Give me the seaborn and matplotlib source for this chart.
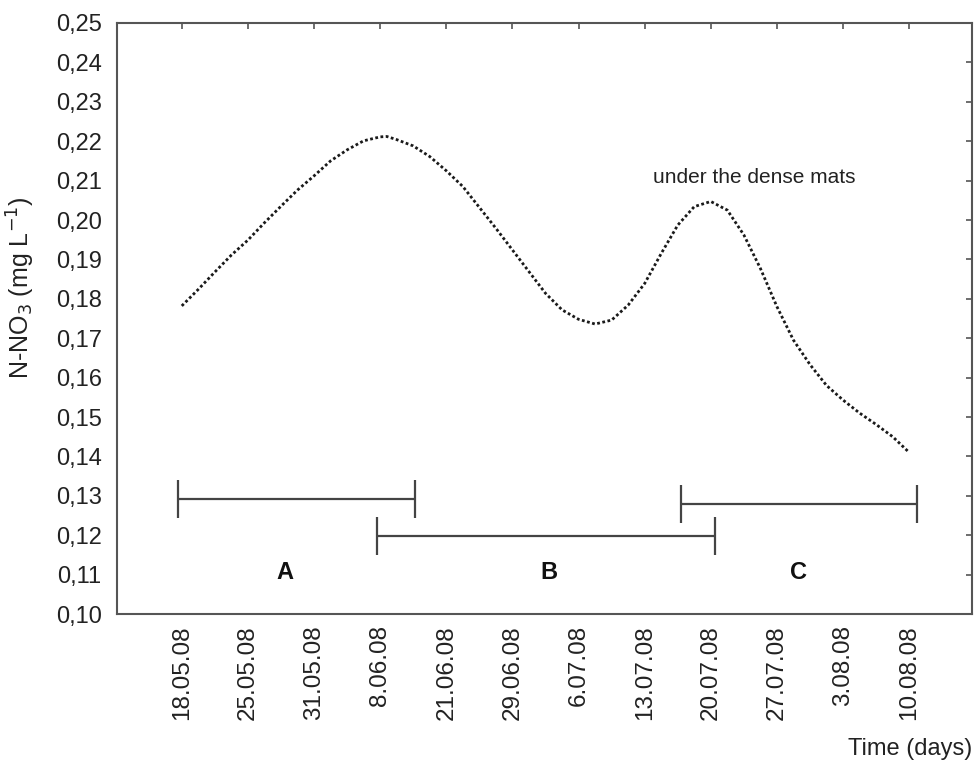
import numpy as np
import pandas as pd
import seaborn as sns
import matplotlib.pyplot as plt

sns.set_style("white")
plt.rcParams['font.family'] = ['Liberation Sans', 'DejaVu Sans']

# tick labels (sampling dates, equally spaced on the axis)
dates = ["18.05.08", "25.05.08", "31.05.08", "8.06.08", "21.06.08", "29.06.08",
         "6.07.08", "13.07.08", "20.07.08", "27.07.08", "3.08.08", "10.08.08"]

# curve, x in date-tick units (quarter steps)
curve_x = [0, 0.25, 0.5, 0.75, 1, 1.25, 1.5, 1.75, 2, 2.25, 2.5, 2.75,
           3, 3.1, 3.25, 3.5, 3.75, 4, 4.25, 4.5, 4.75, 5, 5.25, 5.5, 5.75,
           6, 6.25, 6.5, 6.75, 7, 7.25, 7.5, 7.75, 8, 8.25, 8.5, 8.75,
           9, 9.25, 9.5, 9.75, 10, 10.25, 10.5, 10.75, 11]
curve_y = [0.1782, 0.1824, 0.1868, 0.1911, 0.1949, 0.1993, 0.2035, 0.2076,
           0.2112, 0.2150, 0.2178, 0.2201, 0.2211, 0.2212, 0.2204, 0.2188,
           0.2161, 0.2125, 0.2085, 0.2032, 0.1979, 0.1924, 0.1869, 0.1814,
           0.1772, 0.1748, 0.1736, 0.1746, 0.1784, 0.1839, 0.1915, 0.1987,
           0.2034, 0.2047, 0.2025, 0.1962, 0.1877, 0.1780, 0.1695, 0.1633,
           0.1580, 0.1543, 0.1510, 0.1481, 0.1450, 0.1410]

# period ranges A, B, C
periods = ["A", "B", "C"]
period_start = [-0.05, 2.95, 7.55]
period_end = [3.52, 8.07, 11.12]
period_level = [0.1292, 0.1198, 0.1279]
label_x = [1.56, 5.55, 9.32]
label_y = [0.1105, 0.1105, 0.1105]

df = pd.DataFrame({"x": curve_x, "y": curve_y})

fig = plt.figure(figsize=(9.78, 7.64), dpi=100)
ax = fig.add_axes([0.1196, 0.1963, 0.8743, 0.7736])

sns.lineplot(data=df, x="x", y="y", ax=ax, color="#1a1a1a",
             linestyle=(0, (1, 0.9)), linewidth=2.0)

# range bars with end caps
cap = 0.0048
ax.hlines(period_level, period_start, period_end, color="#444444", lw=1.6)
for s, e, lv in zip(period_start, period_end, period_level):
    ax.vlines([s, e], lv - cap, lv + cap, color="#444444", lw=1.6)
for p, lx, ly in zip(periods, label_x, label_y):
    ax.text(lx, ly, p, ha="center", va="center", fontsize=17,
            fontweight="bold", color="#111111")

ax.text(8.66, 0.2109, "under the dense mats", ha="center", va="center",
        fontsize=15, color="#222222")

ax.set_xlim(-0.98, 11.95)
ax.set_ylim(0.10, 0.25)
ax.set_xticks(range(len(dates)))
ax.set_xticklabels(dates, rotation=90, fontsize=17.5)
yt = np.round(np.arange(0.10, 0.2501, 0.01), 2)
ax.set_yticks(yt)
ax.set_yticklabels([f"{v:.2f}".replace(".", ",") for v in yt], fontsize=17)

ax.tick_params(direction="in", top=True, right=True, length=4, width=1.2,
               color="#555555", labelcolor="#222222")
ax.tick_params(axis="x", pad=8)
ax.tick_params(axis="y", pad=11)
for sp in ax.spines.values():
    sp.set_color("#555555")
    sp.set_linewidth(1.5)

ax.set_ylabel("N-NO$_3$ (mg L$^{-1}$)", fontsize=18, color="#222222")
ax.yaxis.set_label_coords(-0.094, 0.552)
ax.set_xlabel("Time (days)", fontsize=17, color="#222222", loc="right")
ax.xaxis.set_label_coords(1.0, -0.21)

plt.savefig("out.png", dpi=100)
